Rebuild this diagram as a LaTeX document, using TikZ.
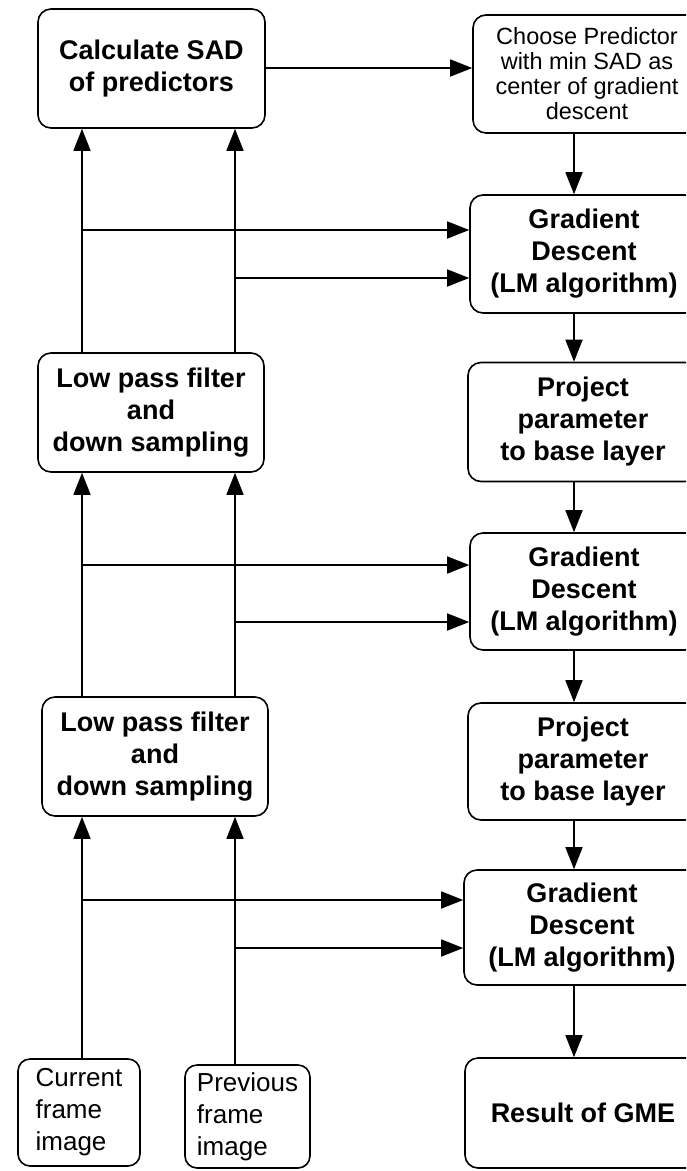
\documentclass[tikz,border=0pt]{standalone}
\usepackage{fontspec}
\setmainfont{Liberation Sans}
\usetikzlibrary{arrows.meta,positioning}

\begin{document}
\begin{tikzpicture}[x=1pt,y=-1pt,
    box/.style={draw,line width=1.6pt,rounded corners=13pt,inner sep=0pt,align=center},
    boldbox/.style={box,font=\fontsize{27}{32}\selectfont\bfseries},
    plainbox/.style={box,font=\fontsize{23.5}{25}\selectfont},
    framebox/.style={box,rounded corners=12pt,align=left,font=\fontsize{26}{32}\selectfont},
    arr/.style={line width=1.6pt,-{Triangle[length=22pt,width=17pt]}}]
    \useasboundingbox (0,0) rectangle (686,1171);
    \clip (0,0) rectangle (686,1171);
%left column
    \node[boldbox,minimum width=227,minimum height=119] (sad) at (151.5,68.5) {Calculate SAD\\of predictors};
    \node[boldbox,minimum width=226,minimum height=119] (lpf1) at (151,412.5) {Low pass filter\\and\\down sampling};
    \node[boldbox,minimum width=226,minimum height=119] (lpf2) at (155,756.5) {Low pass filter\\and\\down sampling};
    \node[framebox,minimum width=122,minimum height=107] (cur) at (79,1112.5) {Current\\frame\\image};
    \node[framebox,minimum width=125,minimum height=103] (prev) at (247.5,1116.5) {Previous\\frame\\image};
%right column
    \node[plainbox,minimum width=228,minimum height=118] (choose) at (587,74) {Choose Predictor\\with min SAD as\\center of gradient\\descent};
    \node[boldbox,minimum width=228,minimum height=118] (gd1) at (584,254) {Gradient\\Descent\\(LM algorithm)};
    \node[boldbox,minimum width=230,minimum height=119] (proj1) at (583,422) {Project\\parameter\\to base layer};
    \node[boldbox,minimum width=228,minimum height=117] (gd2) at (584,591.5) {Gradient\\Descent\\(LM algorithm)};
    \node[boldbox,minimum width=230,minimum height=117] (proj2) at (583,761.5) {Project\\parameter\\to base layer};
    \node[boldbox,minimum width=236,minimum height=115] (gd3) at (582,927.5) {Gradient\\Descent\\(LM algorithm)};
    \node[boldbox,minimum width=236,minimum height=110] (result) at (583,1113) {Result of GME};
%columns of the connectors
    \coordinate (colA) at (82,0);
    \coordinate (colB) at (235,0);
    \coordinate (colR) at (574,0);
%branch points
    \coordinate (a1) at ([yshift=24pt]gd1.west);
    \coordinate (b1) at ([yshift=-24pt]gd1.west);
    \coordinate (a2) at ([yshift=26.5pt]gd2.west);
    \coordinate (b2) at ([yshift=-30.5pt]gd2.west);
    \coordinate (a3) at ([yshift=27.5pt]gd3.west);
    \coordinate (b3) at ([yshift=-20.5pt]gd3.west);
%upward arrows
    \draw[arr] (cur.north -| colA) -- (lpf2.south -| colA);
    \draw[arr] (prev.north -| colB) -- (lpf2.south -| colB);
    \draw[arr] (lpf2.north -| colA) -- (lpf1.south -| colA);
    \draw[arr] (lpf2.north -| colB) -- (lpf1.south -| colB);
    \draw[arr] (lpf1.north -| colA) -- (sad.south -| colA);
    \draw[arr] (lpf1.north -| colB) -- (sad.south -| colB);
%branches into gradient descent
    \draw[arr] (a1 -| colA) -- (a1);
    \draw[arr] (b1 -| colB) -- (b1);
    \draw[arr] (a2 -| colA) -- (a2);
    \draw[arr] (b2 -| colB) -- (b2);
    \draw[arr] (a3 -| colA) -- (a3);
    \draw[arr] (b3 -| colB) -- (b3);
%right column arrows
    \draw[arr] ([yshift=0.5pt]sad.east) -- ([yshift=0.5pt]sad.east -| choose.west);
    \draw[arr] (choose.south -| colR) -- (gd1.north -| colR);
    \draw[arr] (gd1.south -| colR) -- (proj1.north -| colR);
    \draw[arr] (proj1.south -| colR) -- (gd2.north -| colR);
    \draw[arr] (gd2.south -| colR) -- (proj2.north -| colR);
    \draw[arr] (proj2.south -| colR) -- (gd3.north -| colR);
    \draw[arr] (gd3.south -| colR) -- (result.north -| colR);
\end{tikzpicture}
\end{document}
